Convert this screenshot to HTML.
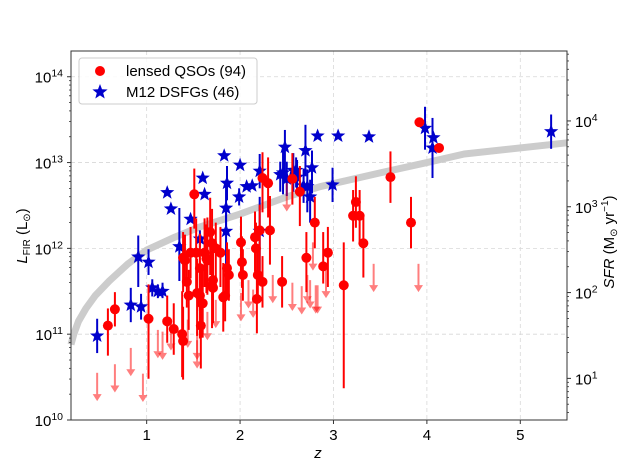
<!DOCTYPE html>
<html><head><meta charset="utf-8"><style>
html,body{margin:0;padding:0;background:#fff;}
svg{display:block;font-family:"Liberation Sans","DejaVu Sans",sans-serif;}
</style></head><body>
<svg id="chart" width="623" height="467" viewBox="0 0 623 467" xmlns="http://www.w3.org/2000/svg">
<g id="grid"></g>
<g id="plot"></g>
<g id="axes"></g>
<g id="legend">
  <rect x="79" y="58" width="178" height="46" rx="3" fill="#fff" fill-opacity="0.85" stroke="#ccc" stroke-width="1"/>
  <circle cx="100" cy="71" r="5" fill="#ff0000"/>
  <text x="126" y="76" font-size="15">lensed QSOs (94)</text>
  <path id="legstar" fill="#0000cc"/>
  <text x="126" y="97" font-size="15">M12 DSFGs (46)</text>
</g>
</svg>
<script>
// ---- data ----
const curveZ = [0.19,0.22,0.27,0.35,0.45,0.6,0.8,1.0,1.3,1.57,2.0,2.5,2.86,3.5,4.0,4.4,5.5];
const curveL = [10.88,11.0,11.15,11.3,11.45,11.62,11.82,11.98,12.13,12.25,12.4,12.6,12.72,12.88,13.0,13.1,13.23];

const dsfgZ  = [0.47,0.83,0.94,0.91,1.02,1.06,1.12,1.17,1.35,1.22,1.26,1.47,1.57,1.60,1.62,1.83,1.86,1.85,1.85,1.99,2.00,2.07,2.13,2.21,2.21,2.43,2.46,2.48,2.50,2.57,2.60,2.68,2.70,2.72,2.75,2.77,2.83,2.99,3.05,3.38,3.98,4.07,4.06,5.33,2.61];
const dsfgL  = [10.98,11.34,11.32,11.90,11.84,11.54,11.50,11.50,12.02,12.65,12.46,12.34,12.11,12.82,12.63,13.08,12.76,12.47,12.20,12.60,12.97,12.72,12.73,12.90,12.20,12.86,12.88,13.18,12.81,12.91,12.91,12.73,13.14,12.72,12.60,12.94,13.31,12.74,13.31,13.30,13.40,13.29,13.17,13.36,12.83];
const dsfgLo = [0.2,0.2,0.15,0.35,0.15,0.1,0.08,0.08,0.4,0,0,0,0.1,0,0,0,0.2,0.3,0.5,0.1,0,0,0,0.2,0.6,0.2,0.25,0.3,0.2,0.25,0.2,0.2,0.3,0.3,0.3,0.3,0,0.2,0,0,0.25,0,0.35,0.2,0.2];
const dsfgHi = [0.2,0.2,0.15,0.25,0.15,0.1,0.08,0.1,0.45,0,0,0,0.1,0,0,0,0.2,0.3,0.3,0.1,0,0,0,0.2,0.4,0.15,0.3,0.2,0.2,0.2,0.15,0.2,0.3,0.2,0.2,0.2,0,0.2,0,0,0.25,0,0.35,0.2,0.2];

const qsoZ  = [0.585,0.66,1.02,1.22,1.29,1.38,1.39,1.43,1.41,1.39,1.45,1.51,1.53,1.54,1.57,1.57,1.59,1.58,1.62,1.64,1.65,1.68,1.70,1.70,1.71,1.71,1.74,1.79,1.84,1.86,1.88,1.82,2.01,2.02,2.03,2.16,2.17,2.18,2.19,2.24,2.21,2.24,2.30,2.32,2.45,2.56,2.64,2.71,2.80,2.89,2.94,3.11,3.21,3.24,3.28,3.32,3.61,3.83,3.92,4.13,1.47,1.60];
const qsoL  = [11.10,11.29,11.18,11.15,11.06,11.00,10.92,11.61,11.86,11.89,11.45,12.63,11.95,11.48,11.77,11.45,11.36,11.10,11.95,11.88,11.86,12.19,12.06,11.57,11.63,11.54,12.00,11.95,11.45,11.77,11.69,11.43,12.07,11.84,11.69,12.13,12.00,11.41,11.69,11.61,12.21,12.82,12.76,12.21,11.61,12.81,12.66,11.89,12.30,11.79,11.95,11.57,12.38,12.54,12.38,12.06,12.83,12.30,13.47,13.17,11.95,11.36];
const qsoLo = [0.35,0.2,0.7,0.25,0.3,0.5,0.45,0.3,0.3,0.4,0.4,0.4,0.5,0.5,0.5,0.5,0.4,0.5,0.4,0.4,0.4,0.5,0.5,0.5,0.5,0.4,0.4,0.4,0.3,0.3,0.3,0.4,0.4,0.3,0.3,0.4,0.3,0.4,0.3,0.3,0.5,0.4,0.4,0.4,0.3,0.3,0.4,0.4,0.3,0.2,0.4,1.2,0.3,0.3,0.3,0.4,0.3,0.3,0,0,0.3,0.4];
const qsoHi = [0.2,0.2,0.4,0.3,0.3,0.5,0.4,0.3,0.3,0.3,0.3,0.3,0.4,0.4,0.4,0.4,0.4,0.4,0.4,0.4,0.5,0.4,0.4,0.4,0.4,0.4,0.3,0.3,0.3,0.3,0.3,0.4,0.3,0.3,0.3,0.3,0.3,0.3,0.3,0.3,0.3,0.3,0.3,0.4,0.3,0.3,0.3,0.3,0.3,0.4,0.3,0.5,0.3,0.3,0.3,0.3,0.3,0.3,0,0,0.3,0.4];

const limZ = [0.47,0.66,0.83,0.96,1.12,1.17,1.26,1.44,1.54,1.54,1.65,1.74,2.01,2.09,2.14,2.35,2.56,2.66,2.72,2.75,2.81,2.92,2.50,2.78,3.43,3.91,2.83];
const limL = [10.55,10.65,10.84,10.54,11.05,11.03,11.14,11.17,10.93,11.03,11.26,11.40,11.48,11.63,11.52,11.69,11.60,11.56,11.69,11.63,11.57,11.75,12.76,12.07,11.82,11.82,11.57];
const limDrop = 0.33;

const xTicks = [1,2,3,4,5];
const yTicks = [10,11,12,13,14];
const sfrTicks = [1,2,3,4];
const sfrOffset = 9.485;

// ---- axes ----
const X0=71,X1=567,Y0=51,Y1=420, zMin=0.19,zMax=5.5, lMin=10, lMax=14.30;
const sx = z => X0+(z-zMin)/(zMax-zMin)*(X1-X0);
const sy = l => Y1-(l-lMin)/(lMax-lMin)*(Y1-Y0);
const NS='http://www.w3.org/2000/svg';
function mk(tag, attrs, parent){const e=document.createElementNS(NS,tag);for(const k in attrs)e.setAttribute(k,attrs[k]);parent.appendChild(e);return e;}
function starPath(cx,cy,R){const r=R*0.42;let d='';for(let i=0;i<10;i++){const a=-Math.PI/2+i*Math.PI/5;const rr=i%2?r:R;d+=(i?'L':'M')+(cx+rr*Math.cos(a)).toFixed(1)+','+(cy+rr*Math.sin(a)).toFixed(1);}return d+'Z';}
const grid=document.getElementById('grid'),plot=document.getElementById('plot'),axes=document.getElementById('axes');

xTicks.forEach(t=>{const g=mk('line',{x1:sx(t),x2:sx(t),y1:Y0,y2:Y1,stroke:'#d8d8d8','stroke-dasharray':'4,3','stroke-width':0.8},grid);
});
yTicks.forEach(t=>{const g=mk('line',{x1:X0,x2:X1,y1:sy(t),y2:sy(t),stroke:'#d8d8d8','stroke-dasharray':'4,3','stroke-width':0.8},grid);
});

// curve
const cp=mk('polyline',{points:curveZ.map((z,i)=>sx(z)+','+sy(curveL[i])).join(' '),fill:'none',stroke:'#cccccc','stroke-width':7,'stroke-linejoin':'round'},plot);


// DSFGs
dsfgZ.forEach((z,i)=>{const x=sx(z),y=sy(dsfgL[i]);
 if(dsfgLo[i]||dsfgHi[i]){const e=mk('line',{x1:x,x2:x,y1:sy(dsfgL[i]+dsfgHi[i]),y2:sy(dsfgL[i]-dsfgLo[i]),stroke:'#0000cc','stroke-width':2},plot);
 }
 const s=mk('path',{d:starPath(x,y,7.5),fill:'#0000cc'},plot);
 });

// QSO upper limits
limZ.forEach((z,i)=>{const x=sx(z),y1=sy(limL[i]),y2=sy(limL[i]-limDrop);
 const g=mk('g',{opacity:0.5},plot);
 
 mk('line',{x1:x,x2:x,y1:y1,y2:y2-4,stroke:'#ff0000','stroke-width':2},g);
 mk('path',{d:`M${x-4.5},${y2-7}L${x+4.5},${y2-7}L${x},${y2}Z`,fill:'#ff0000'},g);});

// QSOs
qsoZ.forEach((z,i)=>{const x=sx(z),y=sy(qsoL[i]);
 if(qsoLo[i]||qsoHi[i]){const e=mk('line',{x1:x,x2:x,y1:sy(qsoL[i]+qsoHi[i]),y2:sy(qsoL[i]-qsoLo[i]),stroke:'#ff0000','stroke-width':2},plot);
 }
 const c=mk('circle',{cx:x,cy:y,r:5,fill:'#ff0000'},plot);
 });

// frame
const fr=mk('rect',{x:X0,y:Y0,width:X1-X0,height:Y1-Y0,fill:'none',stroke:'#333','stroke-width':1},axes);


// x ticks
xTicks.forEach(t=>{mk('line',{x1:sx(t),x2:sx(t),y1:Y1,y2:Y1+4,stroke:'#333'},axes);
 const tx=mk('text',{x:sx(t),y:Y1+20,'font-size':15,'text-anchor':'middle'},axes);tx.textContent=t;
 });
// y ticks
yTicks.forEach(t=>{mk('line',{x1:X0-4,x2:X0,y1:sy(t),y2:sy(t),stroke:'#333'},axes);
 const tx=mk('text',{x:X0-8,y:sy(t)+6,'font-size':15,'text-anchor':'end'},axes);
 tx.innerHTML='10<tspan dy="-6" font-size="10.5">'+t+'</tspan>';
 });
for(let d=10;d<=14;d++)for(let m=2;m<=9;m++){const l=d+Math.log10(m);if(l<=lMax)mk('line',{x1:X0-2,x2:X0,y1:sy(l),y2:sy(l),stroke:'#333','stroke-width':0.8},axes);}
// right SFR axis
sfrTicks.forEach(t=>{const y=sy(t+sfrOffset);mk('line',{x1:X1,x2:X1+4,y1:y,y2:y,stroke:'#333'},axes);
 const tx=mk('text',{x:X1+8,y:y+6,'font-size':15},axes);
 tx.innerHTML='10<tspan dy="-6" font-size="10.5">'+t+'</tspan>';
 });
for(let d=0;d<=4;d++)for(let m=2;m<=9;m++){const l=d+Math.log10(m)+sfrOffset;if(l>=lMin&&l<=lMax)mk('line',{x1:X1,x2:X1+2,y1:sy(l),y2:sy(l),stroke:'#333','stroke-width':0.8},axes);}

// axis titles
let t=mk('text',{x:318,y:458,'font-size':15,'font-style':'italic','text-anchor':'middle'},axes);t.textContent='z';

t=mk('text',{x:0,y:0,'font-size':15,'text-anchor':'middle',transform:'translate(27,236) rotate(-90)'},axes);
t.innerHTML='<tspan font-style="italic">L</tspan><tspan font-size="10" dy="3">FIR</tspan><tspan dy="-3"> (L</tspan><tspan font-size="10" dy="3">⊙</tspan><tspan dy="-3">)</tspan>';

t=mk('text',{x:0,y:0,'font-size':15,'text-anchor':'middle',transform:'translate(614,242) rotate(-90)'},axes);
t.innerHTML='<tspan font-style="italic">SFR</tspan> (M<tspan font-size="10" dy="3">⊙</tspan><tspan dy="-3"> yr</tspan><tspan font-size="10" dy="-6">−1</tspan><tspan dy="6">)</tspan>';


document.getElementById('legstar').setAttribute('d',starPath(100,92,8));
</script>
</body></html>
